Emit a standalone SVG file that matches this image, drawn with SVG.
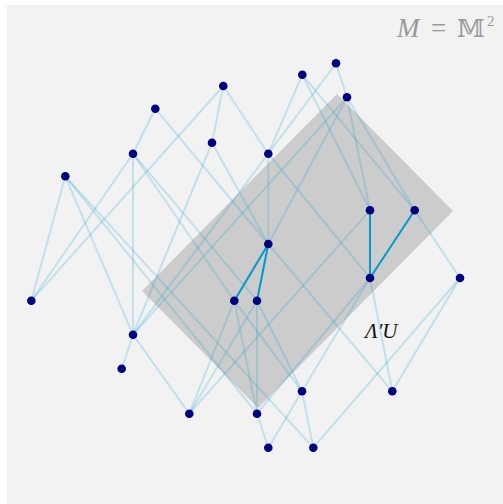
<svg xmlns="http://www.w3.org/2000/svg" width="503" height="504" viewBox="0 0 503 504">
<style>
.bg{fill:#f2f2f2}
.region{fill:#cccccc}
.e{stroke:#0099cc;stroke-opacity:0.2;stroke-width:2;fill:none}
.h{stroke:#0099cc;stroke-width:2;fill:none}
.n{fill:#000080}
.lbl{font-family:"Liberation Serif","DejaVu Serif",serif}
</style>
<rect class="bg" x="7" y="5" width="496" height="499"/>
<polygon class="region" points="337,94 453,211 258,408 142,291"/>
<g id="connectors">
<line class="e" x1="133" y1="334.7" x2="121.7" y2="368.7"/>
<line class="e" x1="133" y1="334.7" x2="189.3" y2="413.7"/>
<line class="e" x1="257" y1="413.7" x2="268.3" y2="447.7"/>
<line class="e" x1="65.3" y1="176.3" x2="31.3" y2="300.7"/>
<line class="e" x1="65.3" y1="176.3" x2="133" y2="334.7"/>
<line class="e" x1="65.3" y1="176.3" x2="257" y2="413.7"/>
<line class="e" x1="65.3" y1="176.3" x2="313.3" y2="447.7"/>
<line class="e" x1="302" y1="391.3" x2="268.3" y2="447.7"/>
<line class="e" x1="302" y1="391.3" x2="313.3" y2="447.7"/>
<line class="e" x1="234.3" y1="300.7" x2="189.3" y2="413.7"/>
<line class="e" x1="234.3" y1="300.7" x2="257" y2="413.7"/>
<line class="e" x1="234.3" y1="300.7" x2="302" y2="391.3"/>
<line class="e" x1="257" y1="300.7" x2="189.3" y2="413.7"/>
<line class="e" x1="257" y1="300.7" x2="257" y2="413.7"/>
<line class="e" x1="257" y1="300.7" x2="302" y2="391.3"/>
<line class="e" x1="133" y1="153.7" x2="31.3" y2="300.7"/>
<line class="e" x1="133" y1="153.7" x2="133" y2="334.7"/>
<line class="e" x1="133" y1="153.7" x2="234.3" y2="300.7"/>
<line class="e" x1="133" y1="153.7" x2="257" y2="300.7"/>
<line class="e" x1="268.3" y1="244" x2="392.3" y2="391.3"/>
<line class="e" x1="155.3" y1="108.7" x2="133" y2="153.7"/>
<line class="e" x1="155.3" y1="108.7" x2="268.3" y2="244"/>
<line class="e" x1="212" y1="142.7" x2="133" y2="334.7"/>
<line class="e" x1="212" y1="142.7" x2="268.3" y2="244"/>
<line class="e" x1="370" y1="278" x2="257" y2="413.7"/>
<line class="e" x1="370" y1="278" x2="302" y2="391.3"/>
<line class="e" x1="370" y1="278" x2="392.3" y2="391.3"/>
<line class="e" x1="268.3" y1="153.7" x2="133" y2="334.7"/>
<line class="e" x1="268.3" y1="153.7" x2="268.3" y2="244"/>
<line class="e" x1="268.3" y1="153.7" x2="370" y2="278"/>
<line class="e" x1="223.3" y1="86" x2="31.3" y2="300.7"/>
<line class="e" x1="223.3" y1="86" x2="212" y2="142.7"/>
<line class="e" x1="223.3" y1="86" x2="268.3" y2="153.7"/>
<line class="e" x1="370" y1="210.3" x2="189.3" y2="413.7"/>
<line class="e" x1="460" y1="278" x2="313.3" y2="447.7"/>
<line class="e" x1="460" y1="278" x2="392.3" y2="391.3"/>
<line class="e" x1="414.7" y1="210.3" x2="460" y2="278"/>
<line class="e" x1="302.3" y1="74.7" x2="268.3" y2="153.7"/>
<line class="e" x1="302.3" y1="74.7" x2="370" y2="210.3"/>
<line class="e" x1="302.3" y1="74.7" x2="414.7" y2="210.3"/>
<line class="e" x1="347" y1="97.3" x2="133" y2="334.7"/>
<line class="e" x1="347" y1="97.3" x2="268.3" y2="244"/>
<line class="e" x1="347" y1="97.3" x2="370" y2="210.3"/>
<line class="e" x1="347" y1="97.3" x2="414.7" y2="210.3"/>
<line class="e" x1="336" y1="63.3" x2="268.3" y2="153.7"/>
<line class="e" x1="336" y1="63.3" x2="347" y2="97.3"/>
<line class="h" x1="268.3" y1="244" x2="234.3" y2="300.7"/>
<line class="h" x1="268.3" y1="244" x2="257" y2="300.7"/>
<line class="h" x1="370" y1="210.3" x2="370" y2="278"/>
<line class="h" x1="414.7" y1="210.3" x2="370" y2="278"/>
</g>
<g id="nA"><circle class="n" cx="65.3" cy="176.3" r="4.3"/></g>
<g id="nB"><circle class="n" cx="133" cy="153.7" r="4.3"/></g>
<g id="nC"><circle class="n" cx="155.3" cy="108.7" r="4.3"/></g>
<g id="nD"><circle class="n" cx="223.3" cy="86" r="4.3"/></g>
<g id="nE"><circle class="n" cx="212" cy="142.7" r="4.3"/></g>
<g id="nF"><circle class="n" cx="268.3" cy="153.7" r="4.3"/></g>
<g id="nG"><circle class="n" cx="302.3" cy="74.7" r="4.3"/></g>
<g id="nH"><circle class="n" cx="336" cy="63.3" r="4.3"/></g>
<g id="nI"><circle class="n" cx="347" cy="97.3" r="4.3"/></g>
<g id="nJ"><circle class="n" cx="370" cy="210.3" r="4.3"/></g>
<g id="nK"><circle class="n" cx="414.7" cy="210.3" r="4.3"/></g>
<g id="nL"><circle class="n" cx="268.3" cy="244" r="4.3"/></g>
<g id="nM"><circle class="n" cx="234.3" cy="300.7" r="4.3"/></g>
<g id="nN"><circle class="n" cx="257" cy="300.7" r="4.3"/></g>
<g id="nO"><circle class="n" cx="370" cy="278" r="4.3"/></g>
<g id="nP"><circle class="n" cx="460" cy="278" r="4.3"/></g>
<g id="nQ"><circle class="n" cx="31.3" cy="300.7" r="4.3"/></g>
<g id="nR"><circle class="n" cx="133" cy="334.7" r="4.3"/></g>
<g id="nS"><circle class="n" cx="121.7" cy="368.7" r="4.3"/></g>
<g id="nT"><circle class="n" cx="189.3" cy="413.7" r="4.3"/></g>
<g id="nU"><circle class="n" cx="257" cy="413.7" r="4.3"/></g>
<g id="nV"><circle class="n" cx="302" cy="391.3" r="4.3"/></g>
<g id="nW"><circle class="n" cx="392.3" cy="391.3" r="4.3"/></g>
<g id="nX"><circle class="n" cx="268.3" cy="447.7" r="4.3"/></g>
<g id="nY"><circle class="n" cx="313.3" cy="447.7" r="4.3"/></g>
<g id="title" class="lbl" fill="#999999" font-size="27">
<text x="397" y="37" font-style="italic">M</text>
<text x="431" y="37">=</text>
<text x="457" y="37" font-family="DejaVu Serif,DejaVu Sans,serif" font-size="25">𝕄</text>
<text x="487" y="26" font-size="15">2</text>
</g>
<g id="region-label"><text class="lbl" x="365" y="338" font-size="21" font-style="italic" fill="#111111">Λ′U</text></g>
</svg>
